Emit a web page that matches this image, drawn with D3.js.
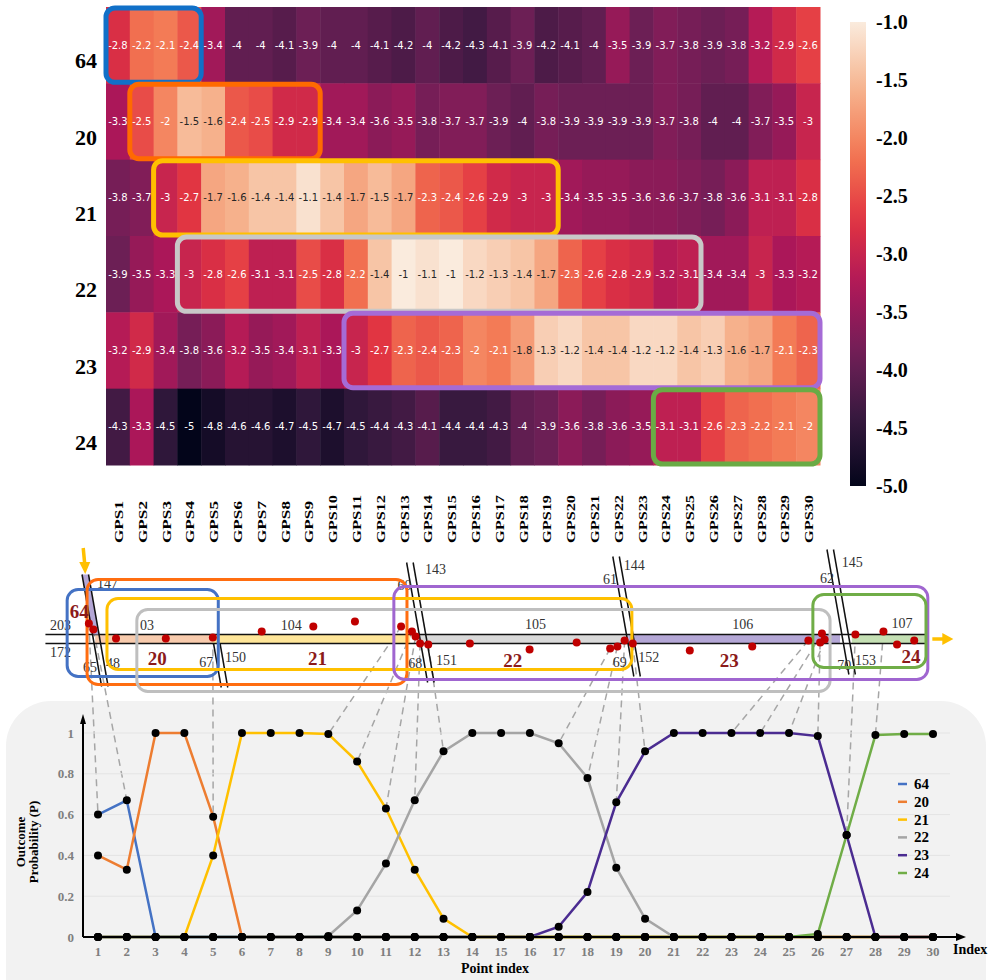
<!DOCTYPE html>
<html>
<head>
<meta charset="utf-8">
<script src="https://cdn.jsdelivr.net/npm/d3@7"></script>
<style>
  body { margin: 0; background: #fff; }
  svg { display: block; }
</style>
</head>
<body>
<div id="chart"></div>
<script>
// ---------- data ----------
const rowLabels = ["64", "20", "21", "22", "23", "24"];
const gpsLabels = ["GPS1","GPS2","GPS3","GPS4","GPS5","GPS6","GPS7","GPS8","GPS9","GPS10",
  "GPS11","GPS12","GPS13","GPS14","GPS15","GPS16","GPS17","GPS18","GPS19","GPS20",
  "GPS21","GPS22","GPS23","GPS24","GPS25","GPS26","GPS27","GPS28","GPS29","GPS30"];

// log-probability of each outcome at each GPS point (heatmap)
const log64 = [-2.8,-2.2,-2.1,-2.4,-3.4,-4,-4,-4.1,-3.9,-4, -4,-4.1,-4.2,-4,-4.2,-4.3,-4.1,-3.9,-4.2,-4.1, -4,-3.5,-3.9,-3.7,-3.8,-3.9,-3.8,-3.2,-2.9,-2.6];
const log20 = [-3.3,-2.5,-2,-1.5,-1.6,-2.4,-2.5,-2.9,-2.9,-3.4, -3.4,-3.6,-3.5,-3.8,-3.7,-3.7,-3.9,-4,-3.8,-3.9, -3.9,-3.9,-3.9,-3.7,-3.8,-4,-4,-3.7,-3.5,-3];
const log21 = [-3.8,-3.7,-3,-2.7,-1.7,-1.6,-1.4,-1.4,-1.1,-1.4, -1.7,-1.5,-1.7,-2.3,-2.4,-2.6,-2.9,-3,-3,-3.4, -3.5,-3.5,-3.6,-3.6,-3.7,-3.8,-3.6,-3.1,-3.1,-2.8];
const log22 = [-3.9,-3.5,-3.3,-3,-2.8,-2.6,-3.1,-3.1,-2.5,-2.8, -2.2,-1.4,-1,-1.1,-1,-1.2,-1.3,-1.4,-1.7,-2.3, -2.6,-2.8,-2.9,-3.2,-3.1,-3.4,-3.4,-3,-3.3,-3.2];
const log23 = [-3.2,-2.9,-3.4,-3.8,-3.6,-3.2,-3.5,-3.4,-3.1,-3.3, -3,-2.7,-2.3,-2.4,-2.3,-2,-2.1,-1.8,-1.3,-1.2, -1.4,-1.4,-1.2,-1.2,-1.4,-1.3,-1.6,-1.7,-2.1,-2.3];
const log24 = [-4.3,-3.3,-4.5,-5,-4.8,-4.6,-4.6,-4.7,-4.5,-4.7, -4.5,-4.4,-4.3,-4.1,-4.4,-4.4,-4.3,-4,-3.9,-3.6, -3.8,-3.6,-3.5,-3.1,-3.1,-2.6,-2.3,-2.2,-2.1,-2];
const heatRows = [log64, log20, log21, log22, log23, log24];
const colorbarTicks = [-1.0, -1.5, -2.0, -2.5, -3.0, -3.5, -4.0, -4.5, -5.0];

// highlighted spans on the heatmap (first / last GPS column)
const heatBoxes = [
  { row: "64", from: "GPS1",  to: "GPS4",  color: "#1170c8" },
  { row: "20", from: "GPS2",  to: "GPS9",  color: "#ff6a00" },
  { row: "21", from: "GPS3",  to: "GPS19", color: "#ffc000" },
  { row: "22", from: "GPS4",  to: "GPS25", color: "#c8c8c8" },
  { row: "23", from: "GPS11", to: "GPS30", color: "#a56bd6" },
  { row: "24", from: "GPS24", to: "GPS30", color: "#6aab45" }
];

// outcome probability per point index (line chart)
const pointIndex = [1,2,3,4,5,6,7,8,9,10,11,12,13,14,15,16,17,18,19,20,21,22,23,24,25,26,27,28,29,30];
const p64 = [0.6,0.67,0,0,0,0,0,0,0,0, 0,0,0,0,0,0,0,0,0,0, 0,0,0,0,0,0,0,0,0,0];
const p20 = [0.4,0.33,1,1,0.59,0,0,0,0,0, 0,0,0,0,0,0,0,0,0,0, 0,0,0,0,0,0,0,0,0,0];
const p21 = [0,0,0,0,0.4,1,1,1,0.995,0.86, 0.63,0.33,0.09,0,0,0,0,0,0,0, 0,0,0,0,0,0,0,0,0,0];
const p22 = [0,0,0,0,0,0,0,0,0.005,0.13, 0.36,0.67,0.91,1,1,1,0.95,0.78,0.34,0.09, 0,0,0,0,0,0,0,0,0,0];
const p23 = [0,0,0,0,0,0,0,0,0,0, 0,0,0,0,0,0,0.05,0.22,0.66,0.91, 1,1,1,1,1,0.985,0.5,0,0,0];
const p24 = [0,0,0,0,0,0,0,0,0,0, 0,0,0,0,0,0,0,0,0,0, 0,0,0,0,0,0.015,0.5,0.99,0.995,0.995];
const seriesNames = ["64", "20", "21", "22", "23", "24"];
const seriesValues = [p64, p20, p21, p22, p23, p24];
const seriesColors = ["#4472c4", "#ed7d31", "#ffc000", "#a5a5a5", "#4b2c91", "#70ad47"];
const linkedIndex = [1,2,5,9,10,11,12,13,17,18,19,20,23,24,25,26,27,28];

// GPS points on the map sketch: distance along route (m) and lateral offset (m)
const gpsAlong  = [54,59,84,139,191,245,302,348,399,411, 415,420,429,475,541,593,630,638,646,655, 718,787,849,864,867,862,901,932,947,966];
const gpsOffset = [8,5,0.5,0.5,1,4,6.5,9,6.5,4, 1.5,-2,-2.5,-2,-5,-1.5,-4.5,-3.5,-0.5,-2, -5.5,-3.5,-0.5,3,0,-1.5,2.5,4,-2.5,-0.5];

// route segments assigned to each outcome link (m)
const segNames = ["20", "21", "22", "23", "24"];
const segFrom  = [61, 191, 418, 650, 897];
const segTo    = [191, 409, 650, 884, 978];
const segFills = ["#f8cbad", "#ffe699", "#d9d9d9", "#b4a7d6", "#c5e0b4"];

// cross streets: position along route, top / bottom offset
const crossAt     = [59, 191, 420, 649, 887];
const crossTop    = [32.5, -2, 38.5, 41.5, 45];
const crossBottom = [-23.5, -24, -21.5, -18.5, -17.5];

// street ids on the sketch
const streetText  = ["203","172","147","65","48","03","67","150","104","143","60","68","151","105","61","144","69","152","106","62","145","70","153","107"];
const streetAlong = [11,11,63,47.5,73,110.5,176,204.5,266,425.4,395,407,437.6,536,622,645,633,661,765,862,886,881,900.5,941];
const streetOff   = [5,-8.5,26,-16,-14,5,-13.5,-11,5,33,25,-14,-12.5,5.5,28,35,-13.5,-11,5.5,28.5,36.5,-15,-12.5,6];

// outcome regions on the sketch
const regionNames = ["64", "20", "21", "22", "23", "24"];
const regionFrom  = [30, 52, 74, 107, 391, 854];
const regionTo    = [197, 405.5, 654, 873, 981, 979];
const regionTop   = [25, 30, 20.5, 15, 26.5, 22.5];
const regionBot   = [-18.5, -22.5, -15, -26, -20, -14];
const regionColors = ["#4472c4", "#ff6d10", "#ffc000", "#bfbfbf", "#a066d0", "#70ad47"];
const regionLabelAlong = [33, 119, 296, 512, 751, 952];
const regionLabelOff   = [11, -12.5, -12.5, -13.5, -13.5, -11.5];

// ---------- setup ----------
const serif = "'Liberation Serif', 'Times New Roman', serif";
const svg = d3.select("#chart").append("svg")
  .attr("width", 988).attr("height", 980);

// rocket colormap
const rocket = ["#03051a", "#35193e", "#701f57", "#ad1759", "#e13342", "#f37651", "#f6b48f", "#faebdd"];
const color = d3.scaleLinear()
  .domain(rocket.map((c, i) => -5 + 4 * i / (rocket.length - 1)))
  .range(rocket)
  .interpolate(d3.interpolateRgb);

function luminance(c) {
  const rgb = d3.rgb(c);
  const f = v => { v /= 255; return v <= 0.03928 ? v / 12.92 : Math.pow((v + 0.055) / 1.055, 2.4); };
  return 0.2126 * f(rgb.r) + 0.7152 * f(rgb.g) + 0.0722 * f(rgb.b);
}

// ---------- heatmap ----------
const hx = d3.scaleBand().domain(gpsLabels).range([106, 820]);
const hy = d3.scaleBand().domain(rowLabels).range([7, 465]);
const cells = [];
heatRows.forEach((vals, i) => vals.forEach((v, j) => cells.push({ row: rowLabels[i], col: gpsLabels[j], v })));

const heat = svg.append("g");
heat.selectAll("rect.cell").data(cells).enter().append("rect")
  .attr("x", d => hx(d.col)).attr("y", d => hy(d.row))
  .attr("width", hx.bandwidth() + 0.5).attr("height", hy.bandwidth() + 0.5)
  .attr("fill", d => color(d.v));

heat.selectAll("text.val").data(cells).enter().append("text")
  .attr("x", d => hx(d.col) + hx.bandwidth() / 2)
  .attr("y", d => hy(d.row) + hy.bandwidth() / 2)
  .attr("text-anchor", "middle").attr("dominant-baseline", "central")
  .attr("font-family", "'DejaVu Sans', sans-serif").attr("font-size", 10)
  .attr("fill", d => luminance(color(d.v)) > 0.408 ? "#262626" : "#ffffff")
  .text(d => String(d.v));

heat.selectAll("rect.box").data(heatBoxes).enter().append("rect")
  .attr("x", d => hx(d.from)).attr("y", d => hy(d.row) + 1)
  .attr("width", d => hx(d.to) + hx.bandwidth() - hx(d.from))
  .attr("height", hy.bandwidth() - 2)
  .attr("rx", 9).attr("fill", "none")
  .attr("stroke", d => d.color).attr("stroke-width", 5);

heat.selectAll("text.row").data(rowLabels).enter().append("text")
  .attr("x", 97).attr("y", d => hy(d) + hy.bandwidth() / 2 + 23)
  .attr("text-anchor", "end")
  .attr("font-family", serif).attr("font-weight", "bold").attr("font-size", 22)
  .text(d => d);

heat.selectAll("text.col").data(gpsLabels).enter().append("text")
  .attr("transform", d => `translate(${hx(d) + hx.bandwidth() / 2 + 5},543) rotate(-90)`)
  .attr("font-family", serif).attr("font-weight", "bold").attr("font-size", 13)
  .attr("textLength", d => d.length > 4 ? 48 : 42)
  .attr("lengthAdjust", "spacingAndGlyphs")
  .text(d => d);

// colorbar
const cby = d3.scaleLinear().domain([-1, -5]).range([22, 486]);
const grad = svg.append("defs").append("linearGradient")
  .attr("id", "cbar").attr("x1", 0).attr("y1", 1).attr("x2", 0).attr("y2", 0);
d3.range(0, 1.0001, 0.05).forEach(t => {
  grad.append("stop").attr("offset", t).attr("stop-color", color(-5 + 4 * t));
});
svg.append("rect").attr("x", 850).attr("y", cby(-1)).attr("width", 16)
  .attr("height", cby(-5) - cby(-1)).attr("fill", "url(#cbar)");
svg.selectAll("text.cb").data(colorbarTicks).enter().append("text")
  .attr("x", 876).attr("y", d => cby(d)).attr("dominant-baseline", "central")
  .attr("font-family", serif).attr("font-weight", "bold").attr("font-size", 20)
  .text(d => d.toFixed(1));

// ---------- line chart background ----------
svg.append("rect").attr("x", 6).attr("y", 701).attr("width", 980).attr("height", 330)
  .attr("rx", 45).attr("fill", "#f2f2f2");

const lx = d3.scaleLinear().domain([1, 30]).range([98, 933]);
const ly = d3.scaleLinear().domain([0, 1]).range([937, 733]);

// ---------- map sketch ----------
const mapX = d3.scaleLinear().domain([0, 1000]).range([40, 945]);
const mapY = d3.scaleLinear().domain([-10, 10]).range([659.5, 619.5]);
const roadTop = mapY(2.5), roadBot = mapY(-2);
const tilt = 0.175;

// dashed links from GPS point to chart point
const linkG = svg.append("g");
linkedIndex.forEach(i => {
  const top = d3.max(seriesValues, s => s[i - 1]);
  linkG.append("line")
    .attr("x1", mapX(gpsAlong[i - 1])).attr("y1", mapY(gpsOffset[i - 1]))
    .attr("x2", lx(i)).attr("y2", ly(top))
    .attr("stroke", "#a6a6a6").attr("stroke-width", 1.5).attr("stroke-dasharray", "7,5");
});

const map = svg.append("g");
segNames.forEach((s, k) => {
  map.append("rect").attr("x", mapX(segFrom[k])).attr("y", roadTop)
    .attr("width", mapX(segTo[k]) - mapX(segFrom[k])).attr("height", roadBot - roadTop)
    .attr("fill", segFills[k]);
});
[roadTop, roadBot].forEach(y => {
  map.append("line").attr("x1", mapX(6)).attr("x2", mapX(978))
    .attr("y1", y).attr("y2", y).attr("stroke", "#111").attr("stroke-width", 1.6);
});

// cross streets
crossAt.forEach((a, k) => {
  const xc = mapX(a), yT = mapY(crossTop[k]), yB = mapY(crossBottom[k]), c = mapY(0);
  const xAt = (y, dx) => xc + dx + tilt * (y - c);
  if (k === 0) {
    map.append("polygon")
      .attr("points", [[xAt(yT, 0), yT], [xAt(yT, 6.5), yT], [xAt(roadTop, 6.5), roadTop], [xAt(roadTop, 0), roadTop]].join(" "))
      .attr("fill", "#b4a7d6");
  }
  [0, 6.5].forEach(dx => {
    map.append("line").attr("x1", xAt(yT, dx)).attr("y1", yT)
      .attr("x2", xAt(yB, dx)).attr("y2", yB)
      .attr("stroke", "#111").attr("stroke-width", 1.5);
  });
});

map.selectAll("text.street").data(streetText).enter().append("text")
  .attr("x", (d, i) => mapX(streetAlong[i])).attr("y", (d, i) => mapY(streetOff[i]))
  .attr("font-family", serif).attr("font-size", 14).attr("fill", "#333")
  .text(d => d);

regionNames.forEach((r, k) => {
  map.append("rect")
    .attr("x", mapX(regionFrom[k])).attr("y", mapY(regionTop[k]))
    .attr("width", mapX(regionTo[k]) - mapX(regionFrom[k]))
    .attr("height", mapY(regionBot[k]) - mapY(regionTop[k]))
    .attr("rx", 11).attr("fill", "none")
    .attr("stroke", regionColors[k]).attr("stroke-width", 3);
});
map.selectAll("text.region").data(regionNames).enter().append("text")
  .attr("x", (d, i) => mapX(regionLabelAlong[i])).attr("y", (d, i) => mapY(regionLabelOff[i]))
  .attr("font-family", serif).attr("font-weight", "bold").attr("font-size", 19)
  .attr("fill", "#8b1a1a").text(d => d);

map.selectAll("circle.gps").data(gpsAlong).enter().append("circle")
  .attr("cx", d => mapX(d)).attr("cy", (d, i) => mapY(gpsOffset[i]))
  .attr("r", 4).attr("fill", "#c00000");

// entry / exit arrows
const ax = mapX(crossAt[0]) + 3.2 + tilt * (mapY(crossTop[0]) - mapY(0));
map.append("line").attr("x1", ax - 2).attr("y1", 548).attr("x2", ax - 0.5).attr("y2", 564)
  .attr("stroke", "#ffc000").attr("stroke-width", 3.5);
map.append("path").attr("d", `M${ax - 6},562 L${ax + 5},562 L${ax},574 Z`).attr("fill", "#ffc000");
const rx0 = mapX(986), ry = mapY(0.25);
map.append("line").attr("x1", rx0).attr("y1", ry).attr("x2", rx0 + 12).attr("y2", ry)
  .attr("stroke", "#ffc000").attr("stroke-width", 3.5);
map.append("path").attr("d", `M${rx0 + 10},${ry - 6} L${rx0 + 21},${ry} L${rx0 + 10},${ry + 6} Z`).attr("fill", "#ffc000");

// ---------- line chart ----------
const chart = svg.append("g");
chart.selectAll("line.grid").data([0.2, 0.4, 0.6, 0.8, 1]).enter().append("line")
  .attr("x1", 83).attr("x2", 950).attr("y1", d => ly(d)).attr("y2", d => ly(d))
  .attr("stroke", "#e4e4e4").attr("stroke-width", 1);

const line = d3.line().x((d, i) => lx(pointIndex[i])).y(d => ly(d));
seriesValues.forEach((vals, k) => {
  chart.append("path").datum(vals).attr("d", line)
    .attr("fill", "none").attr("stroke", seriesColors[k]).attr("stroke-width", 2.5);
});

// axes with arrows
chart.append("line").attr("x1", 83).attr("y1", 937).attr("x2", 958).attr("y2", 937)
  .attr("stroke", "#000").attr("stroke-width", 2);
chart.append("path").attr("d", "M956,933 L966,937 L956,941 Z").attr("fill", "#000");
chart.append("line").attr("x1", 83).attr("y1", 937).attr("x2", 83).attr("y2", 722)
  .attr("stroke", "#000").attr("stroke-width", 2);
chart.append("path").attr("d", "M80,724 L83,714 L86,724 Z").attr("fill", "#000");

seriesValues.forEach(vals => {
  chart.selectAll(null).data(vals).enter().append("circle")
    .attr("cx", (d, i) => lx(pointIndex[i])).attr("cy", d => ly(d))
    .attr("r", 4).attr("fill", "#000");
});

chart.selectAll("text.xt").data(pointIndex).enter().append("text")
  .attr("x", d => lx(d)).attr("y", 956).attr("text-anchor", "middle")
  .attr("font-family", serif).attr("font-weight", "bold").attr("font-size", 13)
  .attr("fill", "#7f7f7f").text(d => d);
chart.selectAll("text.yt").data([0, 0.2, 0.4, 0.6, 0.8, 1]).enter().append("text")
  .attr("x", 74).attr("y", d => ly(d)).attr("text-anchor", "end")
  .attr("dominant-baseline", "central")
  .attr("font-family", serif).attr("font-weight", "bold").attr("font-size", 13)
  .attr("fill", "#7f7f7f").text(d => d);

chart.append("text").attr("x", 953).attr("y", 954)
  .attr("font-family", serif).attr("font-weight", "bold").attr("font-size", 14).text("Index");
chart.append("text").attr("x", 495).attr("y", 973).attr("text-anchor", "middle")
  .attr("font-family", serif).attr("font-weight", "bold").attr("font-size", 14).text("Point index");
chart.append("text").attr("transform", "translate(25,842) rotate(-90)").attr("text-anchor", "middle")
  .attr("font-family", serif).attr("font-weight", "bold").attr("font-size", 13).text("Outcome");
chart.append("text").attr("transform", "translate(38,842) rotate(-90)").attr("text-anchor", "middle")
  .attr("font-family", serif).attr("font-weight", "bold").attr("font-size", 13).text("Probability (P)");

// legend
const legend = chart.append("g").attr("transform", "translate(898,784)");
seriesNames.forEach((n, k) => {
  const g = legend.append("g").attr("transform", `translate(0,${k * 17.8})`);
  g.append("line").attr("x1", 0).attr("x2", 9).attr("y1", 0).attr("y2", 0)
    .attr("stroke", seriesColors[k]).attr("stroke-width", 2.5);
  g.append("text").attr("x", 16).attr("y", 0).attr("dominant-baseline", "central")
    .attr("font-family", serif).attr("font-weight", "bold").attr("font-size", 15).text(n);
});
</script>
</body>
</html>
